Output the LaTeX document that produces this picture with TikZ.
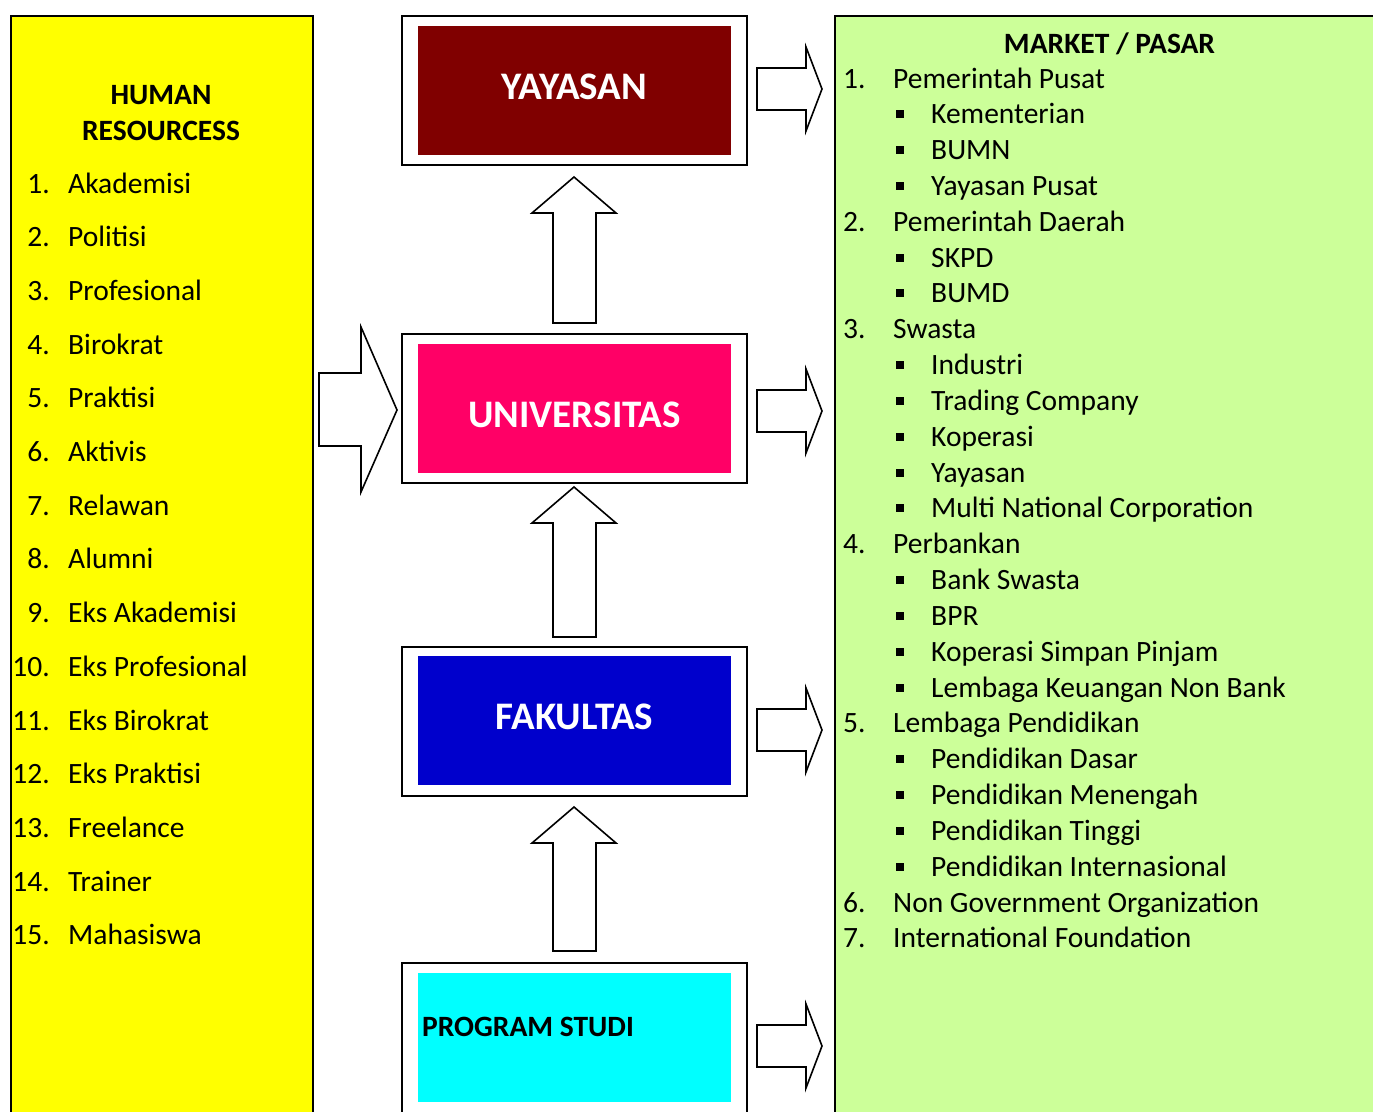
\documentclass[tikz,border=0pt]{standalone}
\usepackage{fontspec}
\setmainfont{Carlito}
\definecolor{hrfill}{HTML}{FFFF00}
\definecolor{mkfill}{HTML}{CCFF99}
\definecolor{yaycol}{HTML}{800000}
\definecolor{unicol}{HTML}{FF0066}
\definecolor{fakcol}{HTML}{0000CC}
\definecolor{prodicol}{HTML}{00FFFF}
\begin{document}
\begin{tikzpicture}[x=1pt,y=-1pt,line join=miter,
  panel/.style={draw=black,line width=1.8pt,anchor=north west,inner sep=0pt},
  outerbox/.style={draw=black,line width=2pt,fill=white,minimum width=345pt,minimum height=149pt,inner sep=0pt},
  innerbox/.style={minimum width=313pt,minimum height=129pt,inner sep=0pt},
  blockarrow/.style={draw=black,line width=1.6pt,fill=white},
  txt/.style={inner sep=0pt,font=\fontsize{29.5}{35}\selectfont},
  head/.style={txt,font=\fontsize{29.5}{35}\selectfont\bfseries,anchor=base},
  title/.style={inner sep=0pt,font=\fontsize{39}{46}\selectfont\bfseries,anchor=base},
  bul/.style={fill=black,minimum size=8pt,inner sep=0pt}]
\useasboundingbox (0,0) rectangle (1373,1111);
\clip (0,0) rectangle (1373,1111);
% side panels
\node[panel,fill=hrfill,minimum width=302pt,minimum height=1130pt] (hr) at (10,15) {};
\node[panel,fill=mkfill,minimum width=560pt,minimum height=1130pt] (mk) at (834,15) {};
% centre boxes
\node[outerbox] (yay) at (574,90) {};
\node[innerbox,fill=yaycol] (yayin) at (574.5,90.5) {};
\node[title,text=white] (yayt) at (574.5,99) {YAYASAN};
\node[outerbox] (uni) at (574,408.5) {};
\node[innerbox,fill=unicol] (uniin) at (574.5,408) {};
\node[title,text=white] (unit) at (574.5,427) {UNIVERSITAS};
\node[outerbox] (fak) at (574,721) {};
\node[innerbox,fill=fakcol] (fakin) at (574.5,720.5) {};
\node[title,text=white] (fakt) at (574.5,729) {FAKULTAS};
\node[outerbox,minimum height=170pt,anchor=north] (prodi) at (574,962) {};
\node[innerbox,fill=prodicol] (prodiin) at (574.5,1037.5) {};
\node[head,anchor=base west] (prodit) at (422,1036) {PROGRAM STUDI};
% up block arrows
\foreach \t/\b in {177/323,487/637,807/951}{
  \draw[blockarrow] (574,\t) -- (616,\t+36) -- (596,\t+36) -- (596,\b) -- (553,\b) -- (553,\t+36) -- (532,\t+36) -- cycle;
}
% right block arrows
\foreach \c in {89,411,730,1046}{
  \draw[blockarrow] (757,\c-21) -- (806,\c-21) -- (806,\c-42) -- (822,\c) -- (806,\c+42) -- (806,\c+21) -- (757,\c+21) -- cycle;
}
% big input arrow
\draw[blockarrow] (319,373) -- (361,373) -- (361,327) -- (397,410) -- (361,492) -- (361,446) -- (319,446) -- cycle;
% human resources
\node[head] (hrh1) at (161,104) {HUMAN};
\node[head] (hrh2) at (161,140) {RESOURCESS};
\foreach \i/\t in {1/Akademisi,2/Politisi,3/Profesional,4/Birokrat,5/Praktisi,6/Aktivis,7/Relawan,8/Alumni,9/Eks Akademisi,10/Eks Profesional,11/Eks Birokrat,12/Eks Praktisi,13/Freelance,14/Trainer,15/Mahasiswa}{
  \node[txt,anchor=base east] (hn\i) at (50,{193+53.71*(\i-1)}) {\i.};
  \node[txt,anchor=base west] (ht\i) at (68,{193+53.71*(\i-1)}) {\t};
}
% market
\node[head] (mkh) at (1109.5,53) {MARKET / PASAR};
\foreach \k/\n/\t in {1/1/Pemerintah Pusat,5/2/Pemerintah Daerah,8/3/Swasta,14/4/Perbankan,19/5/Lembaga Pendidikan,24/6/Non Government Organization,25/7/International Foundation}{
  \node[txt,anchor=base west] (mn\k) at (843,{88+35.83*(\k-1)}) {\n.};
  \node[txt,anchor=base west] (mt\k) at (893,{88+35.83*(\k-1)}) {\t};
}
\foreach \k/\t in {2/Kementerian,3/BUMN,4/Yayasan Pusat,6/SKPD,7/BUMD,9/Industri,10/Trading Company,11/Koperasi,12/Yayasan,13/Multi National Corporation,15/Bank Swasta,16/BPR,17/Koperasi Simpan Pinjam,18/Lembaga Keuangan Non Bank,20/Pendidikan Dasar,21/Pendidikan Menengah,22/Pendidikan Tinggi,23/Pendidikan Internasional}{
  \node[bul] (mb\k) at (899.5,{88+35.83*(\k-1)-9.5}) {};
  \node[txt,anchor=base west] (ms\k) at (931,{88+35.83*(\k-1)}) {\t};
}
\end{tikzpicture}
\end{document}
